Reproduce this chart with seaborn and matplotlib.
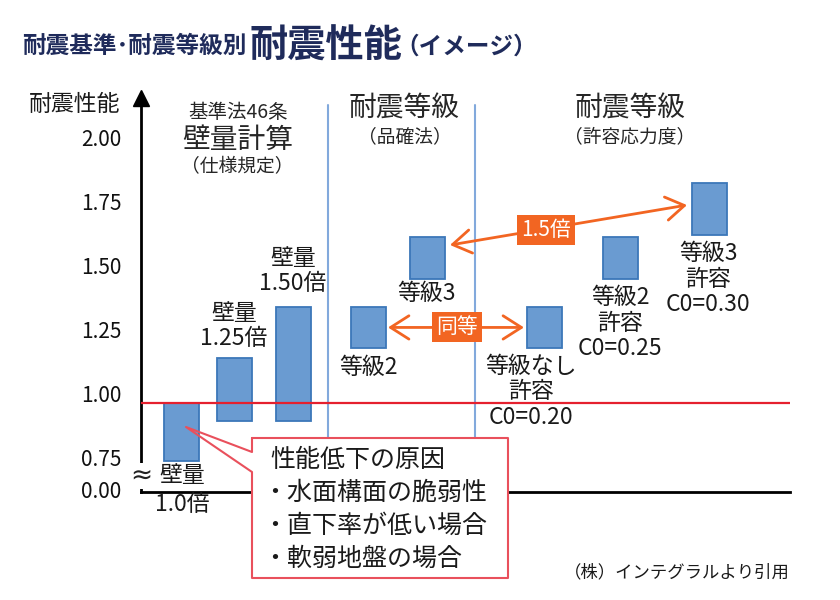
import numpy as np
import matplotlib.pyplot as plt
from matplotlib.patches import Rectangle
from matplotlib.lines import Line2D
import seaborn as sns

# ── data ────────────────────────────────────────
bar_low = [0.738, 0.895, 0.895, 1.18, 1.45, 1.18, 1.45, 1.62]
bar_high = [0.965, 1.14, 1.34, 1.34, 1.613, 1.34, 1.613, 1.824]
bar_text = ["壁量\n1.0倍", "壁量\n1.25倍", "壁量\n1.50倍", "等級2", "等級3",
            "等級なし\n許容\nC0=0.20", "等級2\n許容\nC0=0.25", "等級3\n許容\nC0=0.30"]
ref_level = 0.965
ytick_vals = [0.75, 1.00, 1.25, 1.50, 1.75, 2.00]
ytick_text = ["0.75", "1.00", "1.25", "1.50", "1.75", "2.00"]
group_head = [("基準法46条", "壁量計算", "（仕様規定）"),
              ("耐震等級", "（品確法）"),
              ("耐震等級", "（許容応力度）")]
causes = ["性能低下の原因", "・水面構面の脆弱性", "・直下率が低い場合", "・軟弱地盤の場合"]

# ── layout (figure is 840x600 px, helpers take px from top-left) ──
W, H = 840, 600
bar_pos = [181, 234, 293, 368, 427, 544, 620, 709]
sep_pos = [328, 475]
label_px = [(182, 490), (234, 326), (293, 271), (368, 368), (427, 293),
            (531, 392), (620, 323), (708, 279)]

NAVY = "#1F2B5B"
BAR = "#6A9BD1"
BAR_EDGE = "#3C77B9"
ORANGE = "#F26522"
RED = "#E5202E"
SEP = "#82A9DC"


def fx(x):
    return x / W


def fy(y):
    return 1 - y / H


sns.set_theme(style="white")
plt.rcParams["font.family"] = ["Noto Sans CJK JP", "DejaVu Sans"]

fig = plt.figure(figsize=(8.4, 6), dpi=100)
ax = fig.add_axes([fx(141), fy(492), (790 - 141) / W, (492 - 98) / H])

# y mapping: 256 px per 1.0, value 1.0 at px 394
y_bottom = 1 + (394 - 492) / 256
y_top = 1 + (394 - 98) / 256

heights = np.array(bar_high) - np.array(bar_low)
width = 35 / np.min(np.diff(bar_pos))
sns.barplot(x=bar_pos, y=heights, bottom=bar_low, native_scale=True,
            width=width, errorbar=None, color=BAR, saturation=1,
            edgecolor=BAR_EDGE, linewidth=1.3, ax=ax, zorder=3)

ax.set_xlim(141, 790)
ax.set_ylim(y_bottom, y_top)
ax.set_xticks([])
ax.set_yticks([y_bottom + 0.008] + ytick_vals)
ax.set_yticklabels(["0.00"] + ytick_text)
ax.tick_params(axis="y", length=0, pad=14, labelsize=15, labelcolor="#111111")
ax.set_xlabel("")
ax.set_ylabel("")
for s in ["top", "right"]:
    ax.spines[s].set_visible(False)
for s in ["left", "bottom"]:
    ax.spines[s].set_color("black")
    ax.spines[s].set_linewidth(2)

# axis arrow head + break mark
ax.plot([141], [y_top], marker="^", color="black", ms=12, clip_on=False, zorder=6)
fig.text(fx(141), fy(476), "≈", ha="center", va="center", fontsize=19,
         color="#222222", family=["DejaVu Sans"],
         bbox=dict(boxstyle="square,pad=0.0", fc="white", ec="none"))

# reference level + section separators
ax.axhline(ref_level, color=RED, lw=1.6, zorder=4)
for x in sep_pos:
    ax.axvline(x, ymin=0, ymax=(492 - 105) / (492 - 98), color=SEP, lw=1.5, zorder=2)

# bar labels
for i, ((lx, ly), t) in enumerate(zip(label_px, bar_text)):
    fig.text(fx(lx), fy(ly), t, ha="center", va="center", fontsize=16.5,
             color="#1a1a1a", linespacing=1.32 if i == 0 else 1.16)

# arrows between grades
arr = dict(arrowstyle="<->,head_length=1.1,head_width=0.7", color=ORANGE, lw=2,
           shrinkA=0, shrinkB=0)
mid_same = (bar_low[3] + bar_high[3]) / 2
ax.annotate("", xy=(bar_pos[5] - 20, mid_same), xytext=(bar_pos[3] + 20, mid_same),
            arrowprops=arr, zorder=5)
ax.annotate("", xy=(687, 1.738), xytext=(450, 1.582), arrowprops=arr, zorder=5)
tag = dict(boxstyle="square,pad=0.18", fc=ORANGE, ec="none")
fig.text(fx(457), fy(327), "同等", ha="center", va="center", fontsize=15,
         color="white", bbox=tag, zorder=7)
fig.text(fx(546), fy(230), "1.5倍", ha="center", va="center", fontsize=15,
         color="white", bbox=tag, zorder=7)

# group headers
fig.text(fx(238), fy(112), group_head[0][0], ha="center", va="center", fontsize=14)
fig.text(fx(238), fy(140), group_head[0][1], ha="center", va="center", fontsize=20)
fig.text(fx(237), fy(167), group_head[0][2], ha="center", va="center", fontsize=13.5)
fig.text(fx(404), fy(109), group_head[1][0], ha="center", va="center", fontsize=20)
fig.text(fx(405), fy(137), group_head[1][1], ha="center", va="center", fontsize=13.5)
fig.text(fx(630), fy(109), group_head[2][0], ha="center", va="center", fontsize=20)
fig.text(fx(630), fy(137), group_head[2][1], ha="center", va="center", fontsize=13.5)

# callout box
fig.add_artist(Rectangle((fx(252), fy(578)), (508 - 252) / W, (578 - 438) / H,
                         transform=fig.transFigure, fc="white", ec="none", zorder=5))
cx = [252, 508, 508, 252, 252, 186, 252, 252]
cy = [438, 438, 578, 578, 472, 427, 452, 438]
fig.add_artist(Line2D([fx(v) for v in cx], [fy(v) for v in cy],
                      transform=fig.transFigure, color="#E9505C", lw=1.5, zorder=6))
for i, t in enumerate(causes):
    fig.text(fx(270 if i == 0 else 262), fy(460 + 33 * i), t, ha="left", va="center",
             fontsize=18, color="#1a1a1a", zorder=7)

# titles
fig.text(fx(22), fy(46), "耐震基準･耐震等級別", ha="left", va="center",
         fontsize=17, fontweight="bold", color=NAVY)
fig.text(fx(250), fy(46), "耐震性能", ha="left", va="center",
         fontsize=27.5, fontweight="bold", color=NAVY)
fig.text(fx(395), fy(47), "（イメージ）", ha="left", va="center",
         fontsize=17, fontweight="bold", color=NAVY)
fig.text(fx(75), fy(104), "耐震性能", ha="center", va="center", fontsize=16.5,
         color="#1a1a1a")
fig.text(fx(790), fy(572), "（株）インテグラルより引用", ha="right", va="center",
         fontsize=12.5, color="#1a1a1a")

fig.savefig("out.png", dpi=100)
